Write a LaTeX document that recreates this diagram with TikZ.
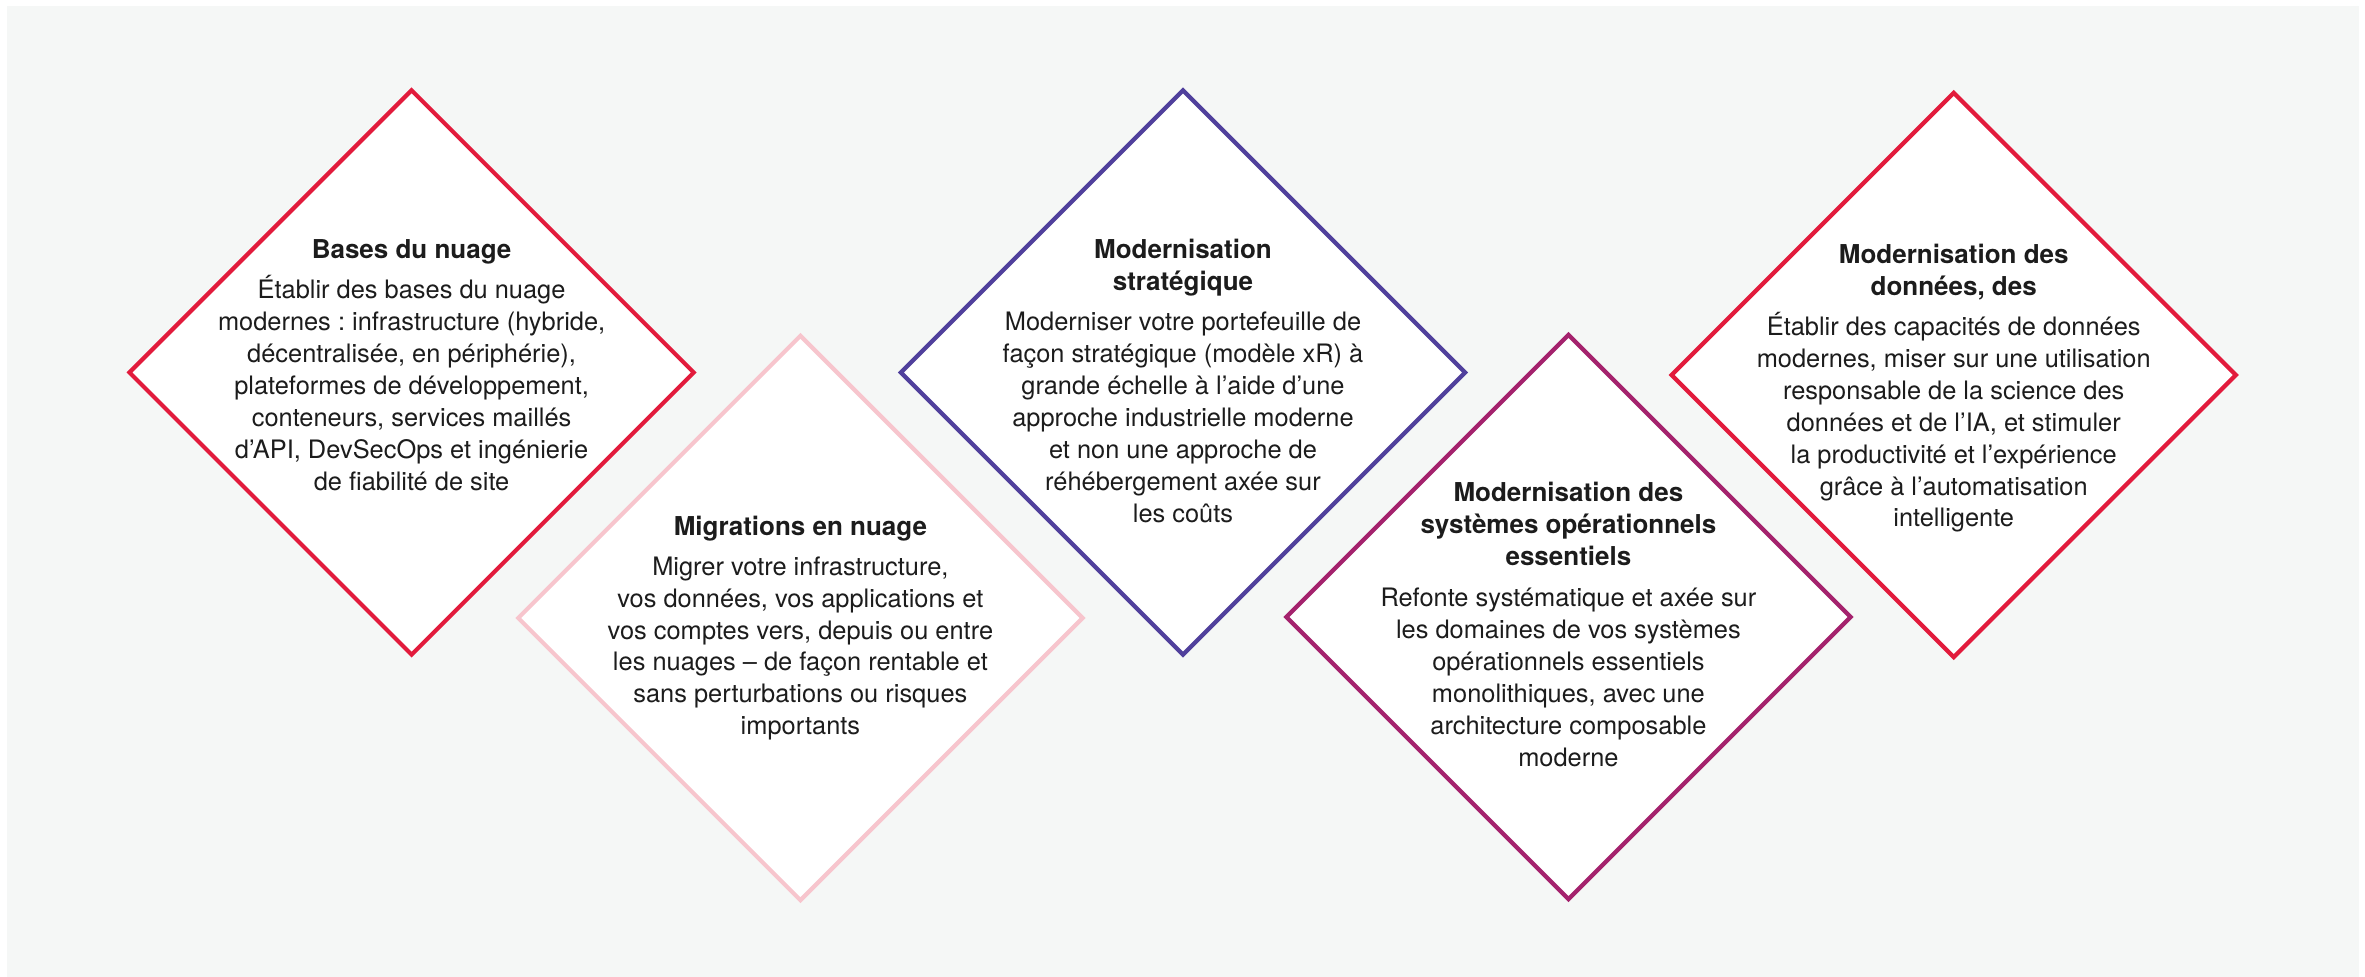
\documentclass[tikz,border=0pt]{standalone}
\usepackage{fontspec}
\setmainfont{TeX Gyre Heros}
\usetikzlibrary{shapes.geometric}
\definecolor{bgc}{HTML}{F5F7F6}
\definecolor{cred}{HTML}{E21B3C}
\definecolor{cpink}{HTML}{F7C5CD}
\definecolor{cpurple}{HTML}{50409C}
\definecolor{cplum}{HTML}{A4226D}
\definecolor{txt}{HTML}{1C1C1C}
\frenchspacing
\newcommand\mylines[1]{\begin{tabular}[t]{@{}c@{}}#1\end{tabular}}
\begin{document}
\begin{tikzpicture}[x=0.5pt,y=-0.5pt,
  dia/.style={draw=#1, fill=white, diamond, aspect=1, line width=2.1pt, line join=miter,
              minimum width=283pt, minimum height=283pt, inner sep=0pt},
  ttl/.style={anchor=base, inner sep=0pt, text=txt,
              font=\fontsize{13}{15.95}\selectfont\bfseries},
  bdy/.style={anchor=base, inner sep=0pt, text=txt,
              font=\fontsize{12.7}{15.95}\selectfont}]
\useasboundingbox (0,0) rectangle (2365,977);
\fill[white] (0,0) rectangle (2365,977);
\fill[bgc] (7,6) rectangle (2359,977);

% diamonds
\node[dia=cred]    (d1) at (411.6,372.5) {};
\node[dia=cpink]   (d2) at (800.4,618) {};
\node[dia=cpurple] (d3) at (1183,372.5) {};
\node[dia=cplum]   (d4) at (1568.4,617) {};
\node[dia=cred]    (d5) at (1953.7,375) {};

% diamond 1
\node[ttl] (t1) at (411.6,258.7) {\mylines{Bases du nuage}};
\node[bdy] (b1) at (411.6,299) {\mylines{Établir des bases du nuage\\
modernes : infrastructure (hybride,\\
décentralisée, en périphérie),\\
plateformes de développement,\\
conteneurs, services maillés\\
d’API, DevSecOps et ingénierie\\
de fiabilité de site}};

% diamond 2
\node[ttl] (t2) at (800.4,535.5) {\mylines{Migrations en nuage}};
\node[bdy] (b2) at (800.4,575.3) {\mylines{Migrer votre infrastructure,\\
vos données, vos applications et\\
vos comptes vers, depuis ou entre\\
les nuages – de façon rentable et\\
sans perturbations ou risques\\
importants}};

% diamond 3
\node[ttl] (t3) at (1183,259) {\mylines{Modernisation\\stratégique}};
\node[bdy] (b3) at (1183,330.7) {\mylines{Moderniser votre portefeuille de\\
façon stratégique (modèle xR) à\\
grande échelle à l’aide d’une\\
approche industrielle moderne\\
et non une approche de\\
réhébergement axée sur\\
les coûts}};

% diamond 4
\node[ttl] (t4) at (1568.4,501.8) {\mylines{Modernisation des\\systèmes opérationnels\\essentiels}};
\node[bdy] (b4) at (1568.4,607) {\mylines{Refonte systématique et axée sur\\
les domaines de vos systèmes\\
opérationnels essentiels\\
monolithiques, avec une\\
architecture composable\\
moderne}};

% diamond 5
\node[ttl] (t5) at (1953.7,263.7) {\mylines{Modernisation des\\données, des}};
\node[bdy] (b5) at (1953.7,335.6) {\mylines{Établir des capacités de données\\
modernes, miser sur une utilisation\\
responsable de la science des\\
données et de l’IA, et stimuler\\
la productivité et l’expérience\\
grâce à l’automatisation\\
intelligente}};
\end{tikzpicture}
\end{document}
